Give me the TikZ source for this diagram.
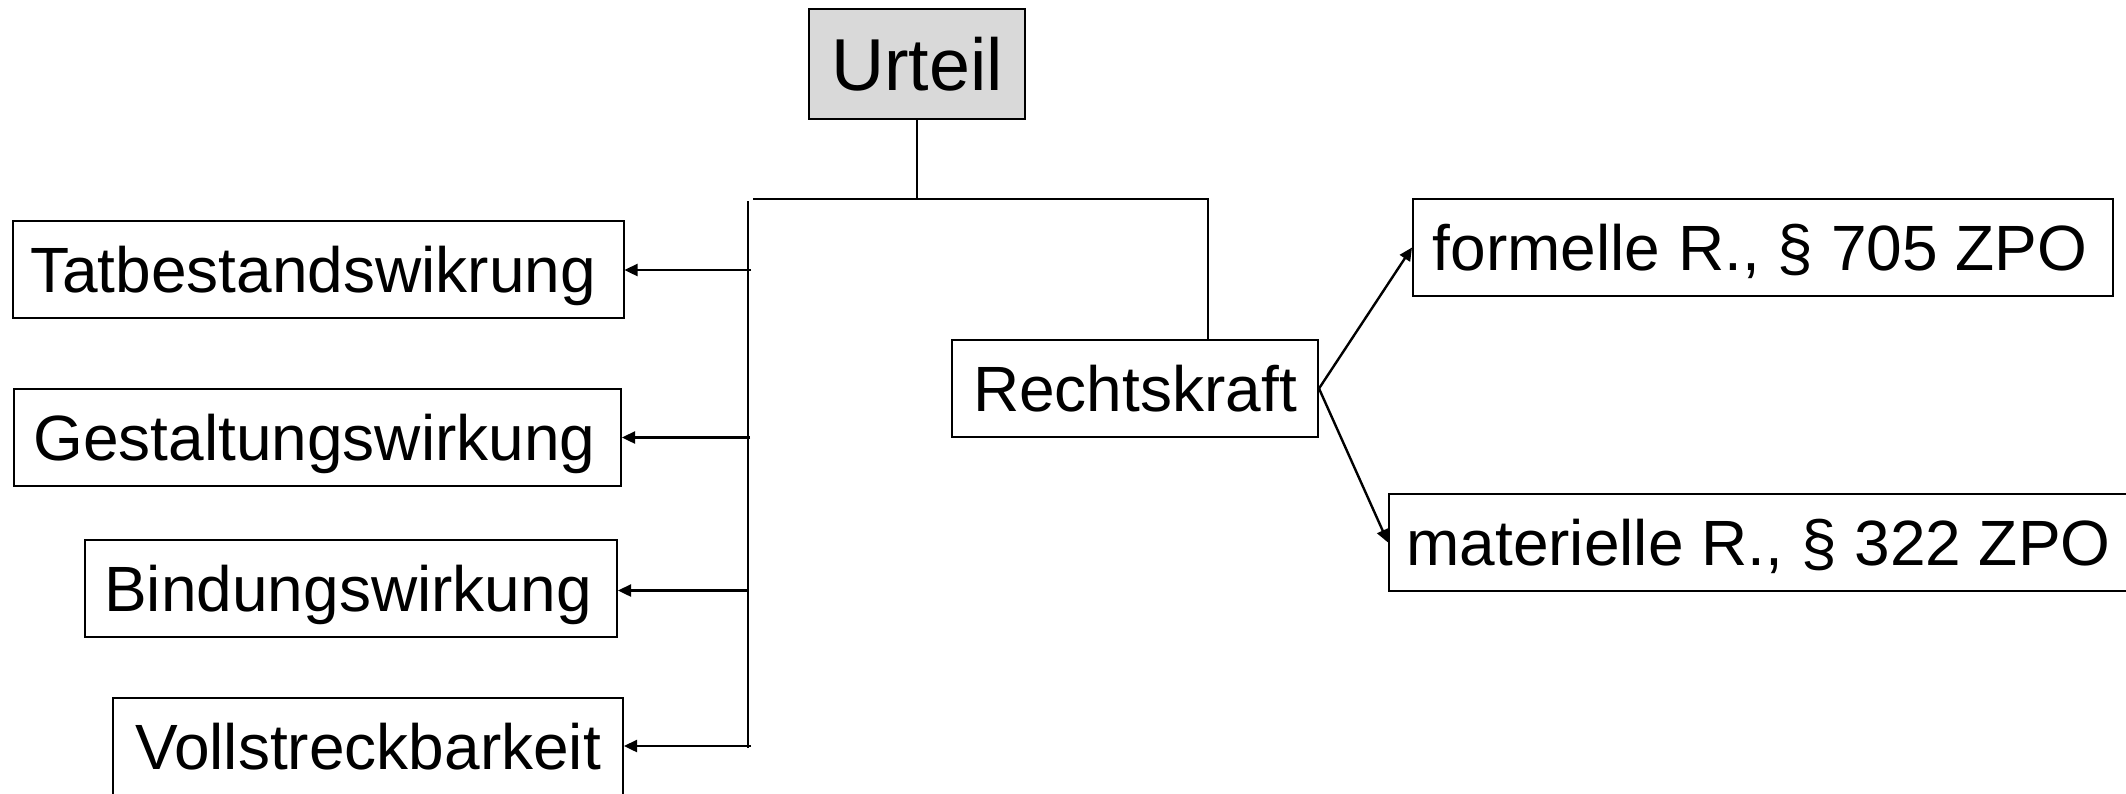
\documentclass[tikz,border=0pt]{standalone}
\usepackage{fontspec}
\setmainfont{Liberation Sans}
\usetikzlibrary{arrows.meta}
\newcommand{\lblfont}{\fontsize{32}{36}\selectfont}
\newcommand{\topfont}{\fontsize{36.8}{42}\selectfont}
\tikzset{
  box/.style={draw, line width=1pt, inner sep=0pt, align=center, font=\lblfont,
    minimum height=48.5pt, text height=23pt, text depth=0pt},
  topbox/.style={box, fill=black!15, font=\topfont, text height=26.5pt},
  link/.style={line width=1.2pt},
  arrowlink/.style={link, -{Triangle[length=6.5pt,width=6pt]}}
}
\begin{document}
\begin{tikzpicture}[x=0.5pt, y=-0.5pt]
  \useasboundingbox (0,0) rectangle (2126,793);

  % judgement at the top
  \node[topbox, minimum width=108pt, minimum height=55pt] (urt) at (917,64) {Urteil};

  % effects on the left
  \node[box, minimum width=305.5pt] (tat)  at (318,269)   {Tatbestandswikrung\hspace{5pt}};
  \node[box, minimum width=303.5pt] (gest) at (317.5,437.5) {Gestaltungswirkung\hspace{3pt}};
  \node[box, minimum width=266pt]   (bind) at (351,588.5) {Bindungswirkung\hspace{3pt}};
  \node[box, minimum width=255pt]   (voll) at (368,746.5) {Vollstreckbarkeit};

  % res judicata and its two kinds
  \node[box, minimum width=183pt]   (rk)   at (1135,388.5) {Rechtskraft};
  \node[box, minimum width=350pt]   (form) at (1763,247.5) {formelle R., \S\ 705 ZPO\hspace{3pt}};
  \node[box, minimum width=375.5pt] (mat)  at (1764.5,542.5) {materielle R., \S\ 322 ZPO\hspace{6pt}};

  % branching bar below the judgement
  \coordinate (barL) at (753,199);
  \coordinate (barR) at (1208,199);
  \coordinate (spTop) at (748,201);
  \coordinate (spBot) at (748,748);
  \draw[link] (urt.south) -- (urt.south |- barR);
  \draw[link] (barL) -- (barR) -- (barR |- rk.north);
  \draw[link] (spTop) -- (spBot);

  % arrows from the spine to the effects
  \coordinate (t1) at (751,270);
  \coordinate (t2) at (750,437.5);
  \coordinate (t3) at (748,590.5);
  \coordinate (t4) at (751,746);
  \draw[arrowlink] (t1) -- (tat.east |- t1);
  \draw[arrowlink] (t2) -- (gest.east |- t2);
  \draw[arrowlink] (t3) -- (bind.east |- t3);
  \draw[arrowlink] (t4) -- (voll.east |- t4);

  % kinds of res judicata
  \draw[arrowlink] (rk.east) -- (form.west);
  \draw[arrowlink] (rk.east) -- (mat.west);
\end{tikzpicture}
\end{document}
